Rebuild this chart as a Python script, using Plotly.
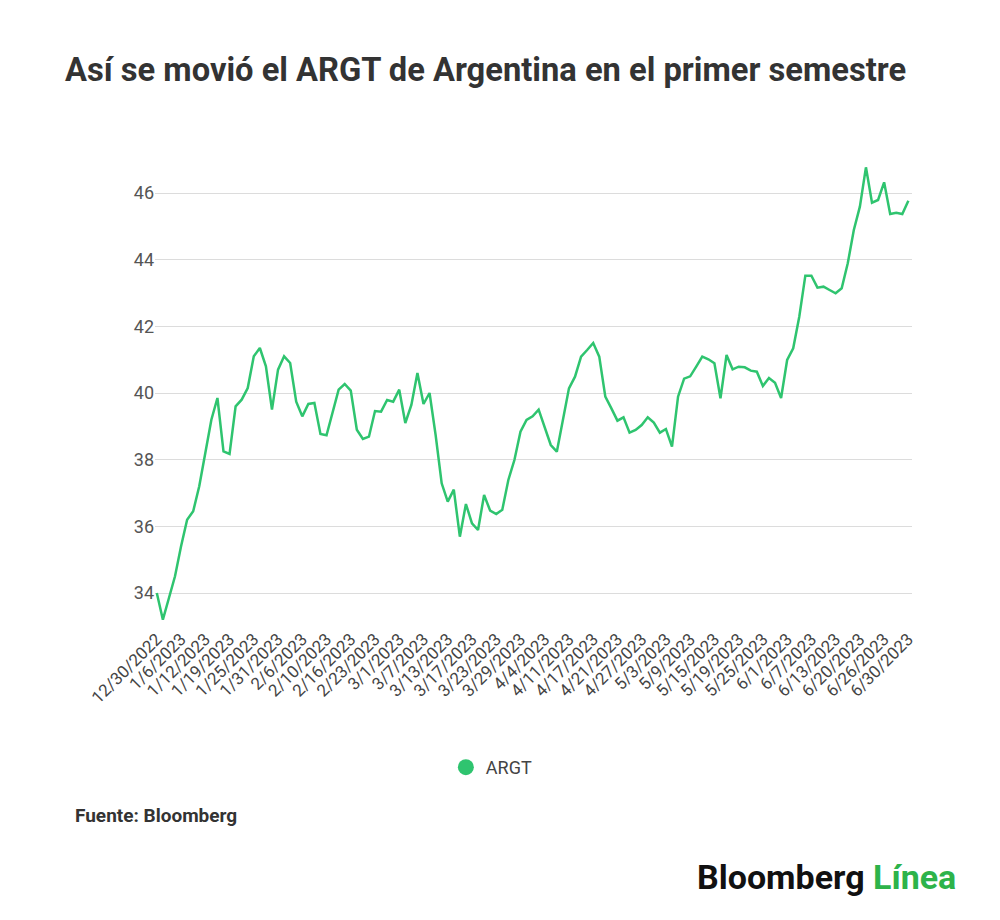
import plotly.graph_objects as go

# trading days shown on the x axis, by month
days_by_month = [
    ("12", "2022", [30]),
    ("1", "2023", [3, 4, 5, 6, 9, 10, 11, 12, 13, 17, 18, 19, 20, 23, 24, 25, 26, 27, 30, 31]),
    ("2", "2023", [1, 2, 3, 6, 7, 8, 9, 10, 13, 14, 15, 16, 17, 21, 22, 23, 24, 27, 28]),
    ("3", "2023", [1, 2, 3, 6, 7, 8, 9, 10, 13, 14, 15, 16, 17, 20, 21, 22, 23, 24, 27, 28, 29, 30, 31]),
    ("4", "2023", [3, 4, 5, 6, 10, 11, 12, 13, 14, 17, 18, 19, 20, 21, 24, 25, 26, 27, 28]),
    ("5", "2023", [1, 2, 3, 4, 5, 8, 9, 10, 11, 12, 15, 16, 17, 18, 19, 22, 23, 24, 25, 26, 30, 31]),
    ("6", "2023", [1, 2, 5, 6, 7, 8, 9, 12, 13, 14, 15, 16, 20, 21, 22, 23, 26, 27, 28, 29, 30]),
]
dates = [f"{m}/{d}/{y}" for m, y, ds in days_by_month for d in ds]

argt = [
    34.0, 33.2, 33.85, 34.5, 35.4, 36.2, 36.45, 37.2, 38.2, 39.2,
    39.85, 38.25, 38.17, 39.6, 39.8, 40.15, 41.1, 41.35, 40.8, 39.5,
    40.7, 41.1, 40.9, 39.74, 39.3, 39.67, 39.7, 38.77, 38.73, 39.44,
    40.1, 40.27, 40.07, 38.9, 38.62, 38.69, 39.46, 39.44, 39.79, 39.74,
    40.1, 39.1, 39.64, 40.6, 39.67, 40.0, 38.74, 37.29, 36.74, 37.1,
    35.69, 36.67, 36.09, 35.89, 36.94, 36.47, 36.37, 36.5, 37.39, 37.99,
    38.84, 39.19, 39.3, 39.5, 38.99, 38.44, 38.24, 39.14, 40.14, 40.49,
    41.09, 41.29, 41.5, 41.09, 39.89, 39.54, 39.17, 39.27, 38.81, 38.89,
    39.04, 39.27, 39.11, 38.81, 38.92, 38.39, 39.89, 40.43, 40.5, 40.79,
    41.09, 41.01, 40.89, 39.84, 41.14, 40.71, 40.79, 40.77, 40.67, 40.64,
    40.21, 40.45, 40.31, 39.85, 40.99, 41.34, 42.29, 43.52, 43.52, 43.16,
    43.19, 43.09, 42.99, 43.14, 43.89, 44.89, 45.59, 46.77, 45.71, 45.79,
    46.32, 45.37, 45.41, 45.37, 45.77,
]

y_ticks = [34, 36, 38, 40, 42, 44, 46]
green = "#2fc46f"

fig = go.Figure()
fig.add_trace(go.Scatter(x=dates, y=argt, mode="lines", name="ARGT",
                         line=dict(color=green, width=2.5), showlegend=False))
# legend entry drawn as a dot, like the original
fig.add_trace(go.Scatter(x=[None], y=[None], mode="markers", name="ARGT",
                         marker=dict(color=green, size=16)))

fig.update_xaxes(type="category", range=[-0.3, len(dates) - 0.4],
                 tickmode="array", tickvals=dates[::4], ticktext=dates[::4],
                 tickangle=-45, tickfont=dict(size=17, color="#444"),
                 showgrid=False, showline=False, ticks="", automargin=False)
fig.update_yaxes(range=[33.04, 47.29], tickvals=y_ticks,
                 tickfont=dict(size=18, color="#555"),
                 showgrid=True, gridcolor="#dcdcdc", gridwidth=1,
                 zeroline=False, showline=False, ticks="", automargin=False)

fig.update_layout(
    width=1000, height=920,
    margin=dict(l=147, r=96, t=142, b=303),
    paper_bgcolor="white", plot_bgcolor="white",
    font=dict(family="Roboto", color="#444"),
    title=dict(text="<b>Así se movió el ARGT de Argentina en el primer semestre</b>",
               x=0.057, xanchor="left", y=1 - 62 / 920, yanchor="middle",
               font=dict(size=32.7, color="#333", family="Roboto")),
    legend=dict(orientation="h", x=0.445, xanchor="center", y=-0.3, yanchor="middle",
                font=dict(size=18, color="#444")),
    annotations=[
        dict(text="<b>Fuente: Bloomberg</b>", xref="paper", yref="paper",
             x=-0.108, y=-0.4, xanchor="left", yanchor="middle", showarrow=False,
             font=dict(size=19, color="#333")),
        dict(text="<b>Bloomberg</b> <b><span style='color:#2db34a'>Línea</span></b>",
             xref="paper", yref="paper", x=1.061, y=-0.53, xanchor="right",
             yanchor="middle", showarrow=False,
             font=dict(size=34, color="#111", family="Roboto")),
    ],
)

fig.write_html("out.html")
